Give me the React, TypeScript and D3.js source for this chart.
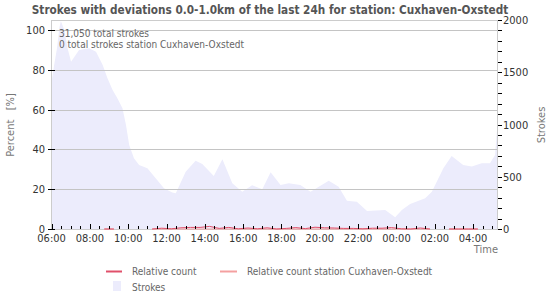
import React from "react";
import * as d3 from "d3";

const title = "Strokes with deviations 0.0-1.0km of the last 24h for station: Cuxhaven-Oxstedt";
const infoLines = ["31,050 total strokes", "0 total strokes station Cuxhaven-Oxstedt"];

const strokeTimes = ["06:01","06:08","06:17","06:24","06:29","06:40","06:50","07:01","07:26","07:58","08:19","08:40","08:55","09:11","09:26","09:42","09:53","10:03","10:18","10:34","11:00","11:26","11:52","12:18","12:29","13:00","13:31","13:52","14:28","14:55","15:26","15:57","16:28","17:00","17:26","17:57","18:23","18:59","19:31","20:28","20:59","21:25","21:56","22:28","23:25","23:56","00:17","00:43","01:30","01:51","02:27","02:53","03:29","03:56","04:27","04:53","05:09","05:15"];
const strokeValues = [1430,1569,1732,1920,1990,1904,1729,1601,1713,1729,1697,1569,1442,1330,1251,1155,995,804,677,612,581,485,390,350,341,548,654,622,507,667,437,357,418,380,542,421,437,421,357,462,405,271,261,172,182,112,182,239,294,357,581,699,612,597,629,629,708,950];

const relTimes = ["08:45","09:15","09:45","10:15","10:45","11:15","11:45","12:15","12:45","13:15","13:45","14:15","14:45","15:15","15:45","16:15","16:45","17:15","17:45","18:15","18:45","19:15","19:45","20:15","20:45","21:15","21:45","22:15","22:45","23:15","23:45","00:15","00:45","01:15","01:45","02:15","02:45","03:15","03:45","04:15"];
const relValues: (number | null)[] = [0,0,null,null,null,0,0.4,0.1,0.6,0.8,0.8,1.3,0.3,0.8,0.1,0.5,0.1,0.6,0,0.3,0.7,0.2,0.9,0.6,0.5,0.3,0.3,0.1,0.4,0.4,0.7,0.1,0,0.5,0,null,0,0,0,0];
const relStationValues: (number | null)[] = [0,0,null,null,null,0,0,0,0,0,0,0,0,0,0,0,0,0,0,0,0,0,0,0,0,0,0,0,0,0,0,0,0,0,0,null,0,0,0,0];

const percentTicks = [0, 20, 40, 60, 80, 100];
const strokeTicksMajor = [0, 500, 1000, 1500, 2000];
const legendItems = ["Relative count", "Relative count station Cuxhaven-Oxstedt", "Strokes"];

const base = new Date(2024, 0, 1, 6, 0);
function toDate(t: string): Date {
  const [h, m] = t.split(":").map(Number);
  const d = new Date(2024, 0, 1, h, m);
  if (h < 6) d.setDate(d.getDate() + 1);
  return d;
}

const FONT = "'DejaVu Sans Condensed', 'DejaVu Sans', sans-serif";

export default function App() {
  const L = 51, R = 497, T = 20, B = 229;
  const x = d3.scaleTime().domain([base, new Date(2024, 0, 2, 5, 15)]).range([L + 0.6, R]);
  const yP = d3.scaleLinear().domain([0, 105]).range([B, T]);
  const yS = d3.scaleLinear().domain([0, 2000]).range([B, T]);

  const strokeData = strokeTimes.map((t, i) => ({ d: toDate(t), v: strokeValues[i] }));
  const area = d3.area<{ d: Date; v: number }>().x(p => x(p.d)).y0(B).y1(p => yS(p.v));
  const areaPath = area([{ d: base, v: strokeValues[0] }, ...strokeData, { d: x.domain()[1], v: strokeValues[strokeValues.length - 1] }]) || "";

  const relLine = d3.line<{ d: Date; v: number | null }>().defined(p => p.v !== null).x(p => x(p.d)).y(p => yP(p.v as number));
  const relData = relTimes.map((t, i) => ({ d: toDate(t), v: relValues[i] }));
  const relStData = relTimes.map((t, i) => ({ d: toDate(t), v: relStationValues[i] }));

  const minorX = d3.timeMinute.every(30)!.range(base, new Date(2024, 0, 2, 5, 16));
  const majorX = d3.timeHour.every(2)!.range(base, new Date(2024, 0, 2, 5, 16));
  const fmt = d3.timeFormat("%H:%M");
  const minorS = d3.range(0, 2001, 100);

  return (
    <svg width={550} height={300} style={{ position: "absolute", left: 0, top: 0, background: "#fff" }} fontFamily={FONT}>
      <text x={270} y={14} textAnchor="middle" fontSize={11.7} fontWeight="bold" fill="#555">{title}</text>
      <path d={areaPath} fill="#ececfc" />
      {percentTicks.filter(v => v > 0).map(v => (
        <line key={"g" + v} x1={L} x2={R} y1={Math.round(yP(v)) + 0.5} y2={Math.round(yP(v)) + 0.5} stroke="#c4c4c4" />
      ))}
      <rect x={L + 0.5} y={T + 0.5} width={R - L} height={B - T} fill="none" stroke="#cccccc" />
      {infoLines.map((s, i) => (
        <text key={s} x={59} y={37 + i * 10.5} fontSize={10} fill="#666">{s}</text>
      ))}
      <path d={relLine(relStData) || ""} fill="none" stroke="#f4a0a0" strokeWidth={1} />
      <path d={relLine(relData) || ""} fill="none" stroke="#e0506a" strokeWidth={1} />
      {percentTicks.map(v => (
        <g key={"p" + v}>
          <line x1={48} x2={55} y1={Math.round(yP(v)) + 0.5} y2={Math.round(yP(v)) + 0.5} stroke="#000" />
          <text x={45} y={yP(v) + 4} textAnchor="end" fontSize={11} fill="#333">{v}</text>
        </g>
      ))}
      {minorS.map(v => (
        <line key={"s" + v} x1={498} x2={502} y1={Math.round(yS(v)) + 0.5} y2={Math.round(yS(v)) + 0.5} stroke="#000" />
      ))}
      {strokeTicksMajor.map(v => (
        <text key={"sl" + v} x={503} y={yS(v) + 4} fontSize={11} fill="#333">{v}</text>
      ))}
      {minorX.map(d => (
        <line key={"m" + d.getTime()} x1={Math.round(x(d)) + 0.5} x2={Math.round(x(d)) + 0.5} y1={226} y2={229} stroke="#000" />
      ))}
      {majorX.map(d => (
        <g key={"M" + d.getTime()}>
          <line x1={Math.round(x(d)) + 0.5} x2={Math.round(x(d)) + 0.5} y1={224} y2={229} stroke="#000" />
          <text x={x(d)} y={242} textAnchor="middle" fontSize={11} fill="#333">{fmt(d)}</text>
        </g>
      ))}
      <text transform="translate(14,125) rotate(-90)" textAnchor="middle" fontSize={11} fill="#777" xmlSpace="preserve">{"Percent   [%]"}</text>
      <text transform="translate(545,125) rotate(-90)" textAnchor="middle" fontSize={11} fill="#777">Strokes</text>
      <text x={498} y={253} textAnchor="end" fontSize={11} fill="#777">Time</text>
      <line x1={106} x2={122} y1={271.5} y2={271.5} stroke="#e0506a" strokeWidth={2} />
      <text x={132} y={275} fontSize={10} fill="#666">{legendItems[0]}</text>
      <line x1={220} x2={237} y1={271.5} y2={271.5} stroke="#f4a0a0" strokeWidth={2} />
      <text x={247} y={275} fontSize={10} fill="#666">{legendItems[1]}</text>
      <rect x={113} y={281} width={8} height={10} fill="#ececfc" />
      <text x={132} y={291} fontSize={10} fill="#666">{legendItems[2]}</text>
    </svg>
  );
}
